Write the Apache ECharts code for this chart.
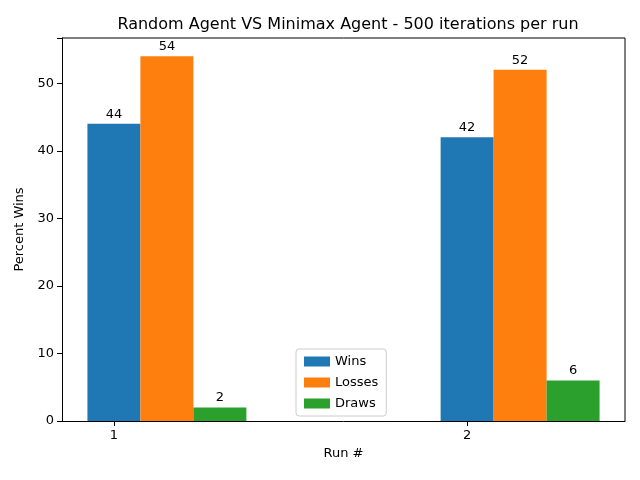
<!DOCTYPE html>
<html>
<head>
<meta charset="utf-8">
<script src="https://cdn.jsdelivr.net/npm/echarts@6/dist/echarts.min.js"></script>
<style>html,body{margin:0;padding:0;background:#fff}#chart{width:640px;height:480px}</style>
</head>
<body>
<div id="chart"></div>
<script>
// run positions and results (percent of 500 games)
var runs = [1, 2]
var barOffset = 0.15
var wins = [44, 42]
var losses = [54, 52]
var draws = [2, 6]
var seriesNames = ['Wins', 'Losses', 'Draws']
var colors = ['#1f77b4', '#ff7f0e', '#2ca02c']

function pts(vals, k) {
	return vals.map(function(v, i) { return [runs[i] + k * barOffset, v] })
}

var font = 'DejaVu Sans'
var allData = [wins, losses, draws]
var series = allData.map(function(vals, k) {
	return {
		name: seriesNames[k],
		type: 'bar',
		barWidth: 53,
		barGap: '-100%',
		data: pts(vals, k),
		itemStyle: { color: colors[k] },
		label: {
			show: true,
			position: 'top',
			distance: 3,
			color: '#000',
			fontFamily: font,
			fontSize: 13,
			formatter: function(p) { return p.value[1] }
		}
	}
})

var option = {
	animation: false,
	title: {
		text: 'Random Agent VS Minimax Agent - 500 iterations per run',
		left: 343,
		textAlign: 'center',
		top: 12,
		textStyle: { fontFamily: font, fontSize: 16, fontWeight: 'normal', color: '#000' }
	},
	grid: { left: 62, right: 15, top: 38, bottom: 59 },
	legend: {
		orient: 'vertical',
		left: 296,
		top: 349,
		itemWidth: 26,
		itemHeight: 10,
		itemGap: 8,
		padding: [6, 8],
		borderColor: '#ccc',
		borderWidth: 1,
		borderRadius: 3,
		icon: 'rect',
		textStyle: { fontFamily: font, fontSize: 13, color: '#000' },
		data: seriesNames
	},
	xAxis: {
		type: 'value',
		min: 0.853,
		max: 2.447,
		name: 'Run #',
		nameLocation: 'middle',
		nameGap: 22,
		nameTextStyle: { fontFamily: font, fontSize: 13, color: '#000' },
		splitLine: { show: false },
		axisLine: { onZero: false, lineStyle: { color: '#000' } },
		axisTick: { show: true, customValues: runs, lineStyle: { color: '#000' } },
		axisLabel: { customValues: runs, fontFamily: font, fontSize: 13, color: '#000' }
	},
	yAxis: {
		type: 'value',
		min: 0,
		max: 56.7,
		interval: 10,
		name: 'Percent Wins',
		nameLocation: 'middle',
		nameGap: 36,
		nameTextStyle: { fontFamily: font, fontSize: 13, color: '#000' },
		splitLine: { show: false },
		axisLine: { show: true, lineStyle: { color: '#000' } },
		axisTick: { show: true, lineStyle: { color: '#000' } },
		axisLabel: {
			fontFamily: font, fontSize: 13, color: '#000',
			formatter: function(v) { return v % 10 === 0 ? v : '' }
		}
	},
	series: series
}

var myChart = echarts.init(document.getElementById('chart'))
myChart.setOption(option)
// right and top frame lines like matplotlib
myChart.setOption({
	graphic: [{
		type: 'polyline',
		shape: { points: [[62, 38], [625, 38], [625, 421]] },
		style: { stroke: '#000', lineWidth: 1, fill: null }
	}]
})
</script>
</body>
</html>
